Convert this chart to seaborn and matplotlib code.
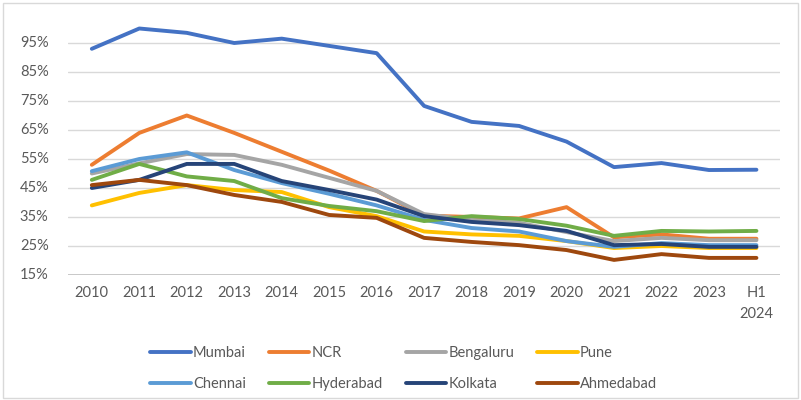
import matplotlib
matplotlib.use("Agg")
import matplotlib.pyplot as plt
import seaborn as sns
import pandas as pd
from matplotlib.patches import Rectangle

years = ["2010", "2011", "2012", "2013", "2014", "2015", "2016", "2017",
         "2018", "2019", "2020", "2021", "2022", "2023", "H1\n2024"]

mumbai    = [93.0, 100.0, 98.5, 95.0, 96.5, 94.0, 91.5, 73.3, 67.8, 66.4, 61.0, 52.2, 53.6, 51.2, 51.3]
ncr       = [53.0, 64.0, 70.0, 64.0, 57.5, 51.0, 44.0, 35.5, 35.0, 34.5, 38.4, 28.0, 29.0, 27.5, 27.5]
bengaluru = [50.0, 53.5, 56.7, 56.4, 53.0, 48.5, 44.0, 36.0, 34.0, 33.0, 29.8, 26.7, 27.8, 27.0, 27.0]
pune      = [39.0, 43.3, 46.0, 44.3, 43.6, 38.4, 35.3, 30.0, 29.0, 28.5, 26.7, 24.3, 25.0, 24.3, 24.3]
chennai   = [50.8, 55.0, 57.3, 51.2, 46.7, 43.0, 39.0, 34.0, 31.2, 30.0, 26.7, 24.7, 26.0, 25.3, 25.3]
hyderabad = [47.8, 53.3, 49.0, 47.4, 41.5, 38.8, 37.0, 33.6, 35.3, 34.3, 32.0, 28.5, 30.2, 30.0, 30.2]
kolkata   = [45.0, 47.8, 53.3, 53.3, 47.4, 44.3, 41.0, 35.3, 33.3, 32.2, 30.2, 25.3, 25.7, 24.7, 24.7]
ahmedabad = [46.0, 47.8, 46.0, 42.6, 40.2, 35.7, 34.7, 27.8, 26.4, 25.3, 23.6, 20.2, 22.2, 20.9, 20.9]

cities = ["Mumbai", "NCR", "Bengaluru", "Pune", "Chennai", "Hyderabad", "Kolkata", "Ahmedabad"]
series = [mumbai, ncr, bengaluru, pune, chennai, hyderabad, kolkata, ahmedabad]
colors = ["#4472C4", "#ED7D31", "#A5A5A5", "#FFC000", "#5B9BD5", "#70AD47", "#264478", "#9E480E"]

y_ticks = [15, 25, 35, 45, 55, 65, 75, 85, 95]

rows = []
for city, vals in zip(cities, series):
    for i, v in enumerate(vals):
        rows.append({"idx": i, "value": v, "city": city})
df = pd.DataFrame(rows)

sns.set_theme(style="white")
plt.rcParams["font.family"] = ["Lato", "DejaVu Sans"]

fig = plt.figure(figsize=(8.01, 4.0), dpi=100)
ax = fig.add_axes([0.085, 0.3125, 0.889, 0.6525])

sns.lineplot(data=df, x="idx", y="value", hue="city", hue_order=cities,
             palette=colors, linewidth=2.8, ax=ax, sort=False, legend=True)

ax.set_xlim(-0.5, len(years) - 0.5)
ax.set_ylim(15, 105)
ax.set_yticks(y_ticks)
ax.set_yticklabels([f"{t}%" for t in y_ticks])
ax.set_xticks(range(len(years)))
ax.set_xticklabels(years, linespacing=1.6)
ax.set_xlabel("")
ax.set_ylabel("")

for t in y_ticks[1:]:
    ax.axhline(t, color="#D9D9D9", linewidth=1.0, zorder=0)
ax.axhline(15, color="#BFBFBF", linewidth=1.2, zorder=0)

for s in ax.spines.values():
    s.set_visible(False)
ax.tick_params(axis="both", length=0, labelsize=10.5, colors="#595959")
ax.tick_params(axis="x", pad=8)
ax.tick_params(axis="y", pad=14)
for lab in ax.get_yticklabels():
    lab.set_verticalalignment("center")
for lab in ax.get_xticklabels():
    lab.set_verticalalignment("top")

ax.get_legend().remove()
handles, labels = ax.get_legend_handles_labels()
order = [0, 4, 1, 5, 2, 6, 3, 7]
handles = [handles[i] for i in order]
labels = [labels[i] for i in order]
leg = fig.legend(handles, labels, loc="center", bbox_to_anchor=(0.504, 0.079),
                 ncol=4, frameon=False, fontsize=10.5, handlelength=2.75,
                 handletextpad=0.15, columnspacing=1.6, labelspacing=1.15)
for txt in leg.get_texts():
    txt.set_color("#595959")
for h in leg.get_lines():
    h.set_linewidth(2.8)

fig.patches.append(Rectangle((0.004, 0.006), 0.992, 0.986, transform=fig.transFigure,
                             fill=False, edgecolor="#D9D9D9", linewidth=1.0))

fig.savefig("out.png", dpi=100)
